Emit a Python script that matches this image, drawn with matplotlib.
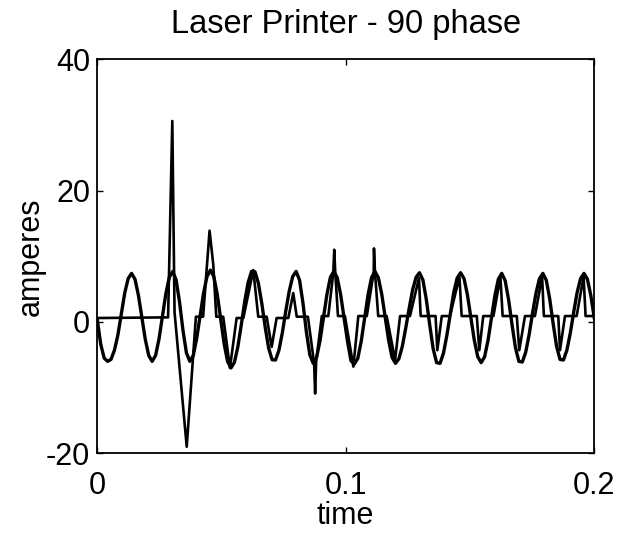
import numpy as np
import matplotlib
matplotlib.use('Agg')
import matplotlib.pyplot as plt

plt.rcParams['font.family'] = ['Liberation Sans', 'DejaVu Sans']
plt.rcParams['axes.unicode_minus'] = False

# smooth (sinusoidal) current, sampled every dt seconds
dt = 0.00138
i_smooth = [0.3, -3.4, -5.5, -6.0, -5.7, -4.3, -2.0, 1.2, 4.4, 6.6,
            7.4, 6.5, 4.05, 0.7, -2.65, -5.1, -6.0, -5.1, -2.6, 0.85,
            4.3, 6.8, 7.7, 6.4, 3.0, -1.3, -4.7, -6.0, -5.1, -2.5,
            0.95, 4.4, 6.9, 7.9, 6.9, 4.2, 0.45, -3.3, -6.0, -7.0,
            -6.15, -3.8, -0.45, 3.1, 6.0, 7.7, 7.65, 5.9, 2.8, -0.85,
            -4.0, -5.75, -5.8, -4.3, -1.6, 1.7, 4.7, 6.9, 7.7, 6.4,
            2.9, -1.5, -5.0, -6.3, -5.35, -2.8, 0.7, 4.2, 6.8, 7.7,
            6.75, 4.15, 0.6, -2.95, -5.9, -6.4, -5.55, -2.95, 0.6, 4.15,
            6.75, 7.7, 6.75, 4.2, 0.7, -2.8, -5.4, -6.3, -5.6, -3.7,
            -0.9, 2.1, 4.9, 6.8, 7.5, 6.4, 3.4, -0.5, -4.1, -6.2,
            -6.3, -4.75, -2.0, 1.3, 4.5, 6.7, 7.5, 6.6, 4.1, 0.65,
            -2.8, -5.3, -6.2, -5.3, -2.8, 0.6, 4.0, 6.5, 7.4, 6.3,
            3.4, -0.4, -3.9, -6.0, -6.1, -4.6, -1.9, 1.4, 4.4, 6.6,
            7.4, 6.35, 3.5, -0.25, -3.7, -5.7, -5.8, -4.3, -1.7, 1.5,
            4.5, 6.6, 7.4, 6.5, 4.0, 0.6]
t_smooth = np.arange(len(i_smooth)) * dt

# pulsed current (vertices)
t_pulse = [0.0, 0.0285, 0.0302, 0.0311, 0.0360, 0.0397, 0.0426, 0.0452, 0.0467, 0.0479,
           0.0507, 0.0534, 0.0561, 0.0588, 0.0628, 0.0648, 0.0682, 0.0702, 0.0722, 0.0769,
           0.0789, 0.0803, 0.0848, 0.0873, 0.0877, 0.0881, 0.0904, 0.0930, 0.0950, 0.0954,
           0.0958, 0.0969, 0.0997, 0.1031, 0.1051, 0.1085, 0.1113, 0.1114, 0.1118, 0.1131,
           0.1165, 0.1199, 0.1219, 0.1259, 0.1295, 0.1302, 0.1362, 0.1369, 0.1387, 0.1420,
           0.1458, 0.1467, 0.1528, 0.1538, 0.1554, 0.1595, 0.1623, 0.1632, 0.1689, 0.1699,
           0.1722, 0.1762, 0.1791, 0.1798, 0.1856, 0.1863, 0.1883, 0.1930, 0.1958, 0.1966,
           0.2000]
i_pulse = [0.6, 0.7, 30.6, 1.5, -19.0, 0.8, 0.8, 13.9, 8.7, 0.8,
           0.8, -7.0, 0.6, 0.6, 7.9, 0.8, 0.8, -3.8, 0.6, 0.6,
           4.4, 0.8, 0.8, -6.3, -10.9, -6.1, 0.9, 0.9, 7.4, 11.0,
           7.6, 0.9, 0.9, -6.8, 0.9, 0.9, 7.6, 11.2, 7.6, 0.9,
           0.9, -5.8, 0.9, 0.9, 6.7, 0.9, 0.9, -4.3, 0.9, 0.9,
           6.9, 0.9, 0.9, -4.3, 0.9, 0.9, 6.9, 0.9, 0.9, -4.3,
           0.9, 0.9, 6.9, 0.9, 0.9, -4.3, 0.9, 0.9, 6.9, 0.9,
           0.9]

fig = plt.figure(figsize=(6.29, 5.35), dpi=100)
ax = fig.add_axes([0.1547, 0.1527, 0.7897, 0.7365])

ax.plot(t_smooth, i_smooth, color='k', linewidth=2.4)
ax.plot(t_pulse, i_pulse, color='k', linewidth=1.9)

ax.set_xlim(0, 0.2)
ax.set_ylim(-20, 40)
ax.set_xticks([0, 0.1, 0.2])
ax.set_xticklabels(['0', '0.1', '0.2'])
ax.set_yticks([-20, 0, 20, 40])
ax.tick_params(direction='in', top=True, right=True, length=4, width=1,
               labelsize=22)
ax.tick_params(axis='x', pad=13)
ax.tick_params(axis='y', pad=5)
for s in ax.spines.values():
    s.set_linewidth(1.3)

ax.set_title('Laser Printer - 90 phase', fontsize=23.5, pad=19)
ax.set_xlabel('time', fontsize=22, labelpad=0)
ax.set_ylabel('amperes', fontsize=22, labelpad=0)

fig.savefig('out.png', dpi=100)
